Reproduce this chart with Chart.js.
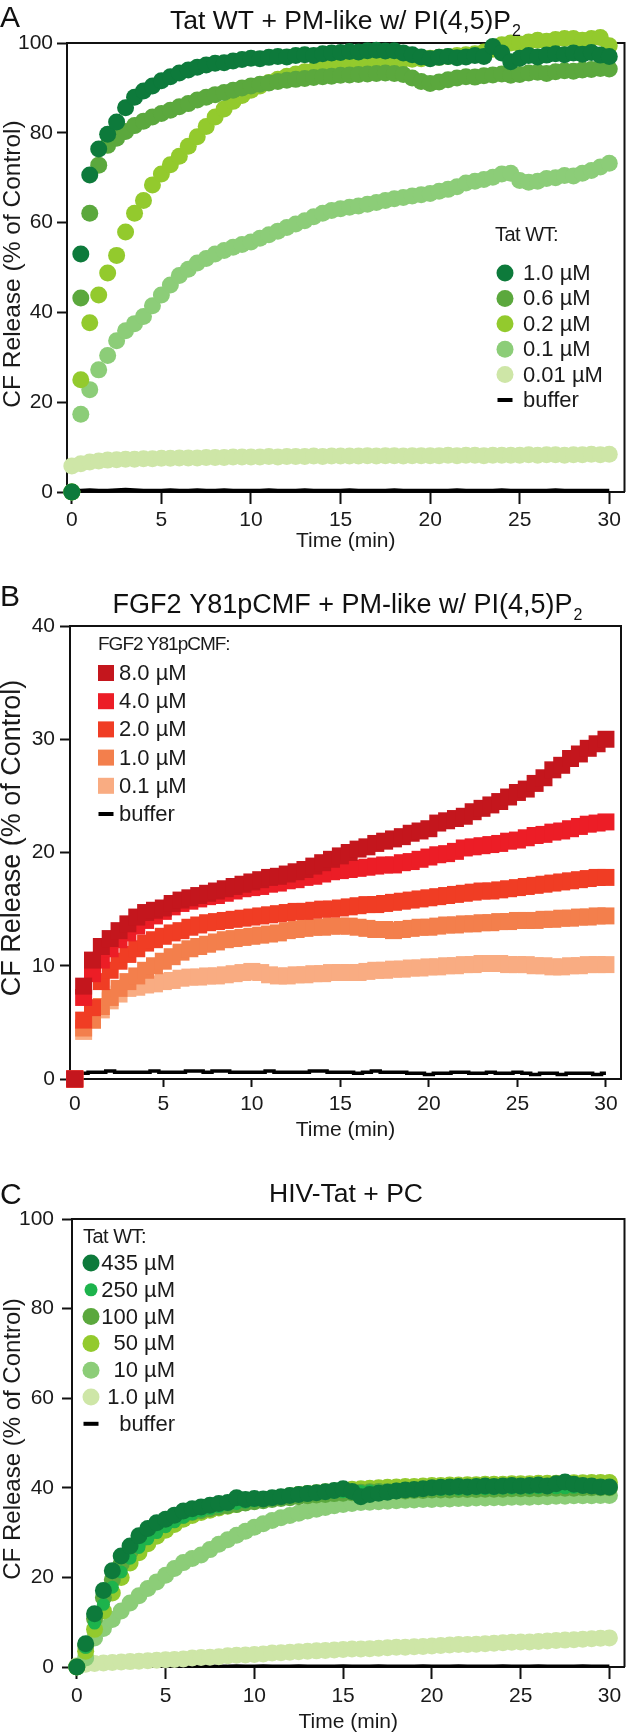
<!DOCTYPE html>
<html>
<head>
<meta charset="utf-8">
<script src="https://cdn.jsdelivr.net/npm/chart.js@4.4.1/dist/chart.umd.min.js"></script>
<style>
  body { margin: 0; background: #fff; }
  canvas { position: absolute; left: 0; }
</style>
</head>
<body>
<canvas id="chartA" style="top:0px" width="633" height="560"></canvas>
<canvas id="chartB" style="top:560px" width="633" height="590"></canvas>
<canvas id="chartC" style="top:1150px" width="633" height="582"></canvas>
<script>
// sampling times (min)
const time = [0,0.5,1,1.5,2,2.5,3,3.5,4,4.5,5,5.5,6,6.5,7,7.5,8,8.5,9,9.5,10,10.5,11,11.5,12,12.5,13,13.5,14,14.5,15,15.5,16,16.5,17,17.5,18,18.5,19,19.5,20,20.5,21,21.5,22,22.5,23,23.5,24,24.5,25,25.5,26,26.5,27,27.5,28,28.5,29,29.5,30];
const xTicks = [0, 5, 10, 15, 20, 25, 30];
const yTicksA = [0, 20, 40, 60, 80, 100];
const yTicksB = [0, 10, 20, 30, 40];
const yTicksC = [0, 20, 40, 60, 80, 100];

// A: Tat WT + PM-like w/ PI(4,5)P2
const labelsA = ['1.0 µM', '0.6 µM', '0.2 µM', '0.1 µM', '0.01 µM', 'buffer'];
const tatA10 = [0, 53.0, 70.6, 76.4, 79.7, 82.4, 85.6, 87.9, 89.3, 90.4,
  91.6, 92.5, 93.3, 94.0, 94.6, 95.1, 95.5, 95.6, 96.0, 96.3,
  96.6, 96.5, 96.8, 97.0, 96.9, 97.2, 97.4, 97.2, 97.6, 97.8,
  97.9, 98.1, 98.0, 98.3, 98.4, 98.2, 98.3, 97.8, 97.4, 96.9,
  96.5, 96.8, 97.0, 96.7, 96.9, 97.2, 97.0, 99.2, 97.8, 95.8,
  96.6, 97.2, 96.9, 97.3, 97.6, 97.4, 97.8, 97.5, 97.9, 97.3,
  97.0];
const tatA06 = [0, 43.2, 62.1, 72.8, 77.2, 78.8, 80.3, 81.6, 82.6, 83.5,
  84.3, 85.0, 85.8, 86.5, 87.3, 87.9, 88.5, 89.0, 89.5, 90.0,
  90.4, 90.8, 91.1, 91.4, 91.7, 91.9, 92.1, 92.3, 92.5, 92.6,
  92.8, 92.9, 93.0, 93.1, 93.2, 93.3, 93.2, 93.0, 92.2, 91.4,
  91.0, 91.3, 91.8, 92.2, 92.5, 92.4, 92.7, 92.9, 93.1, 92.8,
  93.0, 93.3, 93.5, 93.2, 93.6, 93.8, 93.7, 94.0, 94.1, 94.3,
  94.2];
const tatA02 = [0, 25.0, 37.7, 43.9, 48.8, 52.7, 57.9, 62.1, 64.9, 68.4,
  70.8, 72.9, 74.8, 77.0, 79.1, 81.4, 83.5, 85.3, 87.0, 88.3,
  89.5, 90.4, 91.2, 91.9, 92.6, 93.1, 93.6, 93.9, 94.2, 94.6,
  94.9, 95.1, 95.4, 95.6, 95.8, 96.0, 96.2, 96.3, 96.4, 96.5,
  96.6, 96.8, 97.0, 97.2, 97.4, 97.6, 98.0, 98.6, 99.6, 100.0,
  99.8, 100.2, 100.6, 100.4, 100.8, 101.0, 101.0, 100.6, 101.0, 101.2,
  99.4];
const tatA01 = [0, 17.3, 22.8, 27.2, 30.4, 33.7, 35.9, 37.5, 39.1, 41.5,
  43.9, 46.1, 48.2, 49.6, 51.0, 52.0, 53.0, 53.8, 54.5, 55.1,
  55.7, 56.5, 57.3, 58.1, 58.9, 59.7, 60.4, 61.3, 62.1, 62.7,
  63.1, 63.4, 63.7, 64.1, 64.5, 64.9, 65.3, 65.6, 65.9, 66.2,
  66.5, 67.0, 67.4, 68.0, 68.8, 69.2, 69.6, 70.1, 70.8, 71.0,
  69.4, 69.0, 69.2, 69.8, 70.0, 70.5, 70.4, 71.0, 71.6, 72.4,
  73.2];
const tatA001 = [5.8, 6.3, 6.7, 6.9, 7.1, 7.2, 7.3, 7.3, 7.4, 7.4,
  7.5, 7.5, 7.6, 7.6, 7.6, 7.7, 7.7, 7.7, 7.8, 7.8,
  7.8, 7.8, 7.9, 7.8, 7.9, 7.9, 7.9, 8.0, 7.9, 8.0,
  8.0, 8.0, 8.0, 8.1, 8.0, 8.1, 8.1, 8.0, 8.1, 8.1,
  8.1, 8.1, 8.2, 8.1, 8.2, 8.2, 8.1, 8.2, 8.2, 8.2,
  8.2, 8.3, 8.2, 8.3, 8.3, 8.2, 8.3, 8.3, 8.4, 8.3,
  8.4];
const bufferA = [0.3, 0.3, 0.4, 0.3, 0.3, 0.4, 0.5, 0.4, 0.3, 0.3,
  0.3, 0.4, 0.3, 0.3, 0.4, 0.3, 0.3, 0.4, 0.3, 0.3,
  0.3, 0.3, 0.4, 0.3, 0.3, 0.3, 0.4, 0.3, 0.3, 0.3,
  0.3, 0.4, 0.3, 0.3, 0.3, 0.3, 0.4, 0.3, 0.3, 0.3,
  0.3, 0.3, 0.3, 0.4, 0.3, 0.3, 0.3, 0.3, 0.4, 0.3,
  0.3, 0.3, 0.3, 0.3, 0.4, 0.3, 0.3, 0.3, 0.3, 0.3,
  0.3];

// B: FGF2 Y81pCMF + PM-like w/ PI(4,5)P2
const labelsB = ['8.0 µM', '4.0 µM', '2.0 µM', '1.0 µM', '0.1 µM', 'buffer'];
const fgf80 = [0, 8.2, 10.5, 11.7, 12.4, 13.1, 13.7, 14.3, 14.7, 14.9,
  15.1, 15.5, 15.8, 16.0, 16.2, 16.4, 16.6, 16.8, 17.0, 17.2,
  17.4, 17.6, 17.8, 17.9, 18.1, 18.3, 18.5, 18.8, 19.1, 19.4,
  19.7, 20.0, 20.3, 20.5, 20.8, 21.0, 21.2, 21.4, 21.7, 21.9,
  22.1, 22.6, 22.8, 23.0, 23.2, 23.6, 23.9, 24.2, 24.5, 24.9,
  25.3, 25.6, 26.1, 26.6, 27.3, 27.7, 28.3, 28.7, 29.2, 29.6,
  30.0];
const fgf40 = [0, 7.2, 9.3, 10.5, 11.5, 12.3, 12.9, 13.5, 14.0, 14.4,
  14.8, 15.2, 15.5, 15.7, 15.9, 16.1, 16.2, 16.4, 16.6, 16.8,
  16.9, 17.0, 17.2, 17.3, 17.5, 17.6, 17.8, 17.9, 18.1, 18.3,
  18.4, 18.5, 18.6, 18.7, 18.8, 18.9, 18.9, 19.1, 19.2, 19.4,
  19.6, 19.8, 19.9, 20.1, 20.4, 20.5, 20.6, 20.7, 20.8, 21.0,
  21.1, 21.3, 21.5, 21.6, 21.8, 21.9, 22.1, 22.3, 22.5, 22.6,
  22.7];
const fgf20 = [0, 5.2, 6.3, 8.6, 9.6, 10.4, 11.0, 11.5, 12.0, 12.3,
  12.6, 12.9, 13.1, 13.4, 13.6, 13.8, 13.9, 14.0, 14.1, 14.2,
  14.3, 14.4, 14.5, 14.6, 14.7, 14.8, 14.8, 14.9, 15.0, 15.0,
  15.1, 15.2, 15.3, 15.4, 15.4, 15.5, 15.6, 15.7, 15.8, 15.9,
  16.0, 16.1, 16.2, 16.3, 16.4, 16.5, 16.6, 16.6, 16.7, 16.8,
  16.9, 17.0, 17.1, 17.2, 17.3, 17.4, 17.5, 17.6, 17.7, 17.8,
  17.8];
const fgf10 = [0, 4.5, 5.2, 6.4, 7.2, 8.0, 8.6, 9.1, 9.6, 10.0,
  10.4, 10.8, 11.2, 11.5, 11.7, 11.9, 12.1, 12.3, 12.4, 12.5,
  12.6, 12.7, 12.8, 12.9, 13.1, 13.2, 13.3, 13.4, 13.4, 13.5,
  13.5, 13.5, 13.4, 13.3, 13.2, 13.2, 13.1, 13.2, 13.3, 13.4,
  13.4, 13.5, 13.6, 13.6, 13.7, 13.7, 13.8, 13.8, 13.9, 13.9,
  14.0, 14.0, 14.0, 14.1, 14.1, 14.2, 14.2, 14.3, 14.3, 14.4,
  14.4];
const fgf01 = [0, 4.2, 5.2, 6.1, 6.9, 7.5, 8.0, 8.1, 8.3, 8.4,
  8.6, 8.7, 8.9, 9.0, 9.0, 9.1, 9.1, 9.2, 9.3, 9.4,
  9.5, 9.4, 9.2, 9.1, 9.1, 9.2, 9.2, 9.3, 9.3, 9.4,
  9.4, 9.4, 9.4, 9.5, 9.6, 9.6, 9.7, 9.7, 9.8, 9.8,
  9.9, 9.9, 10.0, 10.0, 10.1, 10.1, 10.2, 10.2, 10.2, 10.1,
  10.1, 10.1, 10.0, 10.0, 9.9, 9.9, 10.0, 10.0, 10.1, 10.1,
  10.1];
const bufferB = [0.5, 0.5, 0.6, 0.6, 0.7, 0.6, 0.6, 0.6, 0.6, 0.7,
  0.6, 0.6, 0.6, 0.7, 0.7, 0.6, 0.7, 0.7, 0.6, 0.6,
  0.6, 0.6, 0.7, 0.6, 0.6, 0.6, 0.6, 0.7, 0.7, 0.6,
  0.6, 0.6, 0.5, 0.6, 0.7, 0.6, 0.6, 0.6, 0.5, 0.5,
  0.4, 0.5, 0.5, 0.6, 0.6, 0.5, 0.5, 0.6, 0.5, 0.5,
  0.6, 0.5, 0.4, 0.5, 0.5, 0.4, 0.5, 0.5, 0.5, 0.4,
  0.5];

// C: HIV-Tat + PC
const labelsC = ['435 µM', '250 µM', '100 µM', '50 µM', '10 µM', '1.0 µM', 'buffer'];
const tatC435 = [0, 5.2, 11.9, 17.1, 21.5, 24.8, 27.0, 29.3, 30.9, 32.2,
  33.0, 33.9, 34.8, 35.3, 35.7, 36.1, 36.5, 36.7, 37.8, 37.4,
  37.6, 37.5, 37.8, 38.0, 38.3, 38.5, 38.7, 38.9, 39.1, 39.4,
  39.8, 39.2, 38.0, 38.5, 38.8, 39.0, 39.3, 39.5, 39.6, 39.8,
  40.0, 40.1, 40.2, 40.3, 40.2, 40.3, 40.4, 40.3, 40.4, 40.5,
  40.4, 40.5, 40.6, 40.4, 40.9, 41.3, 40.8, 40.5, 40.4, 40.2,
  40.2];
const tatC250 = [0, 4.4, 9.8, 14.0, 17.8, 21.2, 24.3, 26.7, 28.6, 30.0,
  31.3, 32.4, 33.4, 34.2, 34.8, 35.3, 35.8, 36.2, 36.5, 36.8,
  37.1, 37.3, 37.6, 37.8, 38.0, 38.2, 38.4, 38.6, 38.8, 39.0,
  39.1, 39.2, 39.2, 39.3, 39.3, 39.4, 39.4, 39.5, 39.5, 39.5,
  39.6, 39.6, 39.7, 39.7, 39.7, 39.8, 39.8, 39.8, 39.9, 39.9,
  39.9, 39.9, 40.0, 40.0, 40.0, 40.0, 40.1, 40.1, 40.1, 40.1,
  40.1];
const tatC100 = [0, 4.8, 10.8, 15.5, 19.5, 23.0, 25.8, 28.0, 29.8, 31.2,
  32.2, 33.1, 33.9, 34.5, 34.9, 35.3, 35.7, 36.0, 36.3, 36.6,
  36.9, 37.1, 37.4, 37.6, 37.8, 38.0, 38.2, 38.4, 38.5, 38.7,
  38.8, 38.9, 39.0, 39.1, 39.2, 39.2, 39.3, 39.3, 39.4, 39.4,
  39.5, 39.5, 39.5, 39.6, 39.6, 39.6, 39.7, 39.7, 39.7, 39.8,
  39.8, 39.8, 39.8, 39.9, 39.9, 39.9, 39.9, 40.0, 40.0, 40.0,
  40.0];
const tatC50 = [0, 3.5, 8.4, 12.5, 16.5, 20.0, 23.2, 25.5, 27.5, 29.2,
  30.5, 31.8, 33.0, 33.8, 34.5, 35.0, 35.5, 35.9, 36.3, 36.7,
  37.0, 37.3, 37.6, 37.9, 38.2, 38.5, 38.7, 38.9, 39.1, 39.3,
  39.5, 39.7, 39.8, 39.9, 40.0, 40.1, 40.2, 40.3, 40.3, 40.4,
  40.5, 40.5, 40.6, 40.6, 40.7, 40.7, 40.8, 40.8, 40.8, 40.9,
  40.9, 40.9, 41.0, 41.0, 41.0, 41.1, 41.1, 41.1, 41.2, 41.2,
  41.2];
const tatC10 = [0, 2.0, 6.5, 8.6, 10.6, 12.5, 14.3, 15.9, 17.5, 19.0,
  20.5, 22.0, 23.3, 24.2, 25.0, 26.2, 27.4, 28.4, 29.4, 30.3,
  31.2, 32.0, 32.7, 33.3, 33.8, 34.3, 34.8, 35.2, 35.6, 36.0,
  36.3, 36.5, 36.7, 36.8, 36.9, 37.0, 37.1, 37.2, 37.3, 37.4,
  37.4, 37.5, 37.5, 37.6, 37.6, 37.7, 37.7, 37.8, 37.8, 37.9,
  37.9, 37.9, 38.0, 38.0, 38.1, 38.1, 38.2, 38.2, 38.2, 38.3,
  38.3];
const tatC1 = [0.3, 0.6, 0.8, 0.9, 1.0, 1.1, 1.2, 1.3, 1.4, 1.5,
  1.6, 1.7, 1.8, 2.0, 2.1, 2.2, 2.3, 2.5, 2.6, 2.7,
  2.8, 2.9, 3.1, 3.2, 3.3, 3.4, 3.5, 3.6, 3.7, 3.8,
  3.9, 4.0, 4.0, 4.1, 4.2, 4.3, 4.4, 4.4, 4.5, 4.6,
  4.7, 4.8, 4.9, 5.0, 5.0, 5.1, 5.2, 5.3, 5.4, 5.5,
  5.6, 5.6, 5.7, 5.8, 5.9, 6.0, 6.1, 6.2, 6.3, 6.4,
  6.5];
const bufferC = [0.2, 0.2, 0.3, 0.2, 0.2, 0.3, 0.2, 0.2, 0.2, 0.3,
  0.2, 0.2, 0.2, 0.3, 0.2, 0.2, 0.2, 0.2, 0.3, 0.2,
  0.2, 0.3, 0.2, 0.2, 0.2, 0.3, 0.2, 0.2, 0.2, 0.2,
  0.3, 0.2, 0.2, 0.2, 0.3, 0.2, 0.2, 0.2, 0.2, 0.3,
  0.2, 0.2, 0.2, 0.3, 0.2, 0.2, 0.2, 0.2, 0.3, 0.2,
  0.2, 0.2, 0.3, 0.2, 0.2, 0.2, 0.2, 0.3, 0.2, 0.2,
  0.2];

const colorsA = ['#0d7a3b', '#5ba83d', '#93ca2d', '#8ccd78', '#cee6a7'];
const colorsB = ['#c4161d', '#ec1d26', '#f03d24', '#f37f4c', '#f9ac82'];
const colorsC = ['#0d7a3b', '#1db34c', '#5ba83d', '#93ca2d', '#8ccd78', '#cee6a7'];

const FONT = "'Liberation Sans', Arial, Helvetica, sans-serif";
Chart.defaults.font.family = FONT;
Chart.defaults.color = '#1a1a1a';

function pts(ys) {
  return ys.map((y, i) => ({ x: time[i], y: y }));
}

function markerSet(label, ys, color, style, r) {
  return {
    label: label, data: pts(ys), showLine: false, clip: false,
    pointStyle: style, pointRadius: r, pointBorderWidth: 0,
    pointBackgroundColor: color, backgroundColor: color, borderColor: color
  };
}

function bufferSet(ys, w, stepped) {
  return {
    label: 'buffer', data: pts(ys), showLine: true, clip: false, isBuffer: true,
    borderColor: '#000', backgroundColor: '#000', borderWidth: w,
    pointRadius: 0, stepped: stepped
  };
}

// top + right frame of the plot box
const frame = {
  id: 'frame',
  beforeDatasetsDraw(chart) {
    const { ctx, chartArea: a } = chart;
    ctx.save();
    ctx.strokeStyle = '#111';
    ctx.lineWidth = 2;
    ctx.beginPath();
    ctx.moveTo(a.left, a.top);
    ctx.lineTo(a.right, a.top);
    ctx.lineTo(a.right, a.bottom);
    ctx.stroke();
    ctx.restore();
  }
};

// panel letter, title with subscript, rotated y title
const panelText = {
  id: 'panelText',
  afterDraw(chart, args, o) {
    const ctx = chart.ctx;
    ctx.save();
    ctx.fillStyle = '#111';
    ctx.textBaseline = 'alphabetic';
    ctx.textAlign = 'left';
    ctx.font = '30px ' + FONT;
    ctx.fillText(o.letter, 0, o.letterY);
    ctx.font = o.size + 'px ' + FONT;
    const w1 = ctx.measureText(o.title).width;
    ctx.font = '16px ' + FONT;
    const w2 = o.sub ? ctx.measureText(o.sub).width : 0;
    const x0 = o.titleX - (w1 + w2) / 2;
    ctx.font = o.size + 'px ' + FONT;
    ctx.fillText(o.title, x0, o.titleY);
    if (o.sub) {
      ctx.font = '16px ' + FONT;
      ctx.fillText(o.sub, x0 + w1 + 1, o.titleY + 7);
    }
    // y axis title
    ctx.fillStyle = '#1a1a1a';
    ctx.translate(13, o.yTitleY);
    ctx.rotate(-Math.PI / 2);
    ctx.textAlign = 'center';
    ctx.textBaseline = 'middle';
    ctx.font = o.yTitleSize + 'px ' + FONT;
    ctx.fillText('CF Release (% of Control)', 0, 0);
    ctx.restore();
  }
};

// legend drawn inside the plot box
const boxLegend = {
  id: 'boxLegend',
  afterDatasetsDraw(chart, args, o) {
    const ctx = chart.ctx;
    ctx.save();
    ctx.fillStyle = '#1a1a1a';
    ctx.textBaseline = 'middle';
    ctx.textAlign = 'left';
    ctx.font = o.titleSize + 'px ' + FONT;
    ctx.letterSpacing = o.titleSpacing + 'px';
    ctx.fillText(o.title, o.titleX, o.titleY);
    ctx.letterSpacing = '0px';
    ctx.font = '22px ' + FONT;
    ctx.textAlign = o.align;
    chart.data.datasets.forEach((ds, i) => {
      const y = o.rowY + i * o.rowStep;
      ctx.fillStyle = ds.isBuffer ? '#000' : ds.pointBackgroundColor;
      if (ds.isBuffer) {
        ctx.fillRect(o.markerX - 7.5, y - 2, 15, 4);
      } else if (ds.pointStyle === 'rect') {
        ctx.fillRect(o.markerX - 8, y - 8, 16, 16);
      } else {
        ctx.beginPath();
        ctx.arc(o.markerX, y, ds.pointRadius, 0, Math.PI * 2);
        ctx.fill();
      }
      ctx.fillStyle = '#1a1a1a';
      ctx.fillText(ds.label, o.textX, y + 1);
    });
    ctx.restore();
  }
};

function makeOptions(g) {
  return {
    responsive: false,
    animation: false,
    events: [],
    layout: { padding: { top: g.top, right: g.right, left: 0, bottom: 0 } },
    scales: {
      x: {
        type: 'linear', min: -0.27, max: 30.85,
        afterBuildTicks: s => { s.ticks = xTicks.map(v => ({ value: v })); },
        afterFit: s => { s.height = g.xh; s.paddingLeft = 0; s.paddingRight = 0; },
        grid: { drawOnChartArea: false, tickLength: g.xtl, tickColor: '#111', tickWidth: 2 },
        border: { display: true, color: '#111', width: 2 },
        ticks: { padding: g.xtp, font: { size: 21 }, color: '#1a1a1a', maxRotation: 0, autoSkip: false },
        title: { display: true, text: 'Time (min)', color: '#1a1a1a', font: { size: 21, lineHeight: 1 },
                 padding: { top: 0, bottom: g.xtitle } }
      },
      y: {
        type: 'linear', min: 0, max: g.ymax,
        afterBuildTicks: s => { s.ticks = g.yticks.map(v => ({ value: v })); },
        afterFit: s => { s.width = g.yw; },
        grid: { drawOnChartArea: false, tickLength: 10, tickColor: '#111', tickWidth: 2 },
        border: { display: true, color: '#111', width: 2 },
        ticks: { padding: g.ytp, font: { size: 21 }, color: '#1a1a1a' },
        title: { display: false }
      }
    },
    plugins: {
      legend: { display: false },
      tooltip: { enabled: false },
      panelText: g.text,
      boxLegend: g.legend
    }
  };
}

new Chart(document.getElementById('chartA'), {
  type: 'scatter',
  data: {
    datasets: [
      markerSet(labelsA[0], tatA10, colorsA[0], 'circle', 8.5),
      markerSet(labelsA[1], tatA06, colorsA[1], 'circle', 8.5),
      markerSet(labelsA[2], tatA02, colorsA[2], 'circle', 8.5),
      markerSet(labelsA[3], tatA01, colorsA[3], 'circle', 8.5),
      markerSet(labelsA[4], tatA001, colorsA[4], 'circle', 8.5),
      bufferSet(bufferA, 4, false)
    ]
  },
  options: makeOptions({
    top: 43, right: 6, xh: 68, yw: 67, ymax: 100, yticks: yTicksA,
    xtl: 12, xtp: 4, xtitle: 8, ytp: 4,
    text: { letter: 'A', letterY: 27, title: 'Tat WT + PM-like w/ PI(4,5)P', sub: '2', size: 26.5, titleX: 345, titleY: 29,
            yTitleY: 264, yTitleSize: 24.5 },
    legend: { title: 'Tat WT:', titleSize: 20, titleSpacing: -0.5, titleX: 495, titleY: 235,
              markerX: 505, textX: 523, align: 'left', rowY: 273, rowStep: 25.4 }
  }),
  plugins: [frame, panelText, boxLegend]
});

new Chart(document.getElementById('chartB'), {
  type: 'scatter',
  data: {
    datasets: [
      markerSet(labelsB[0], fgf80, colorsB[0], 'rect', 12),
      markerSet(labelsB[1], fgf40, colorsB[1], 'rect', 12),
      markerSet(labelsB[2], fgf20, colorsB[2], 'rect', 12),
      markerSet(labelsB[3], fgf10, colorsB[3], 'rect', 12),
      markerSet(labelsB[4], fgf01, colorsB[4], 'rect', 12),
      bufferSet(bufferB, 3.5, 'middle')
    ]
  },
  options: makeOptions({
    top: 66, right: 3, xh: 71, yw: 70, ymax: 40, yticks: yTicksB,
    xtl: 8, xtp: 5, xtitle: 9, ytp: 5,
    text: { letter: 'B', letterY: 46, title: 'FGF2 Y81pCMF + PM-like w/ PI(4,5)P', sub: '2', size: 27, titleX: 347, titleY: 53,
            yTitleY: 278, yTitleSize: 27 },
    legend: { title: 'FGF2 Y81pCMF:', titleSize: 19, titleSpacing: -1, titleX: 98, titleY: 85,
              markerX: 106, textX: 119, align: 'left', rowY: 113, rowStep: 28.2 }
  }),
  plugins: [frame, panelText, boxLegend]
});

new Chart(document.getElementById('chartC'), {
  type: 'scatter',
  data: {
    datasets: [
      markerSet(labelsC[0], tatC435, colorsC[0], 'circle', 8.5),
      markerSet(labelsC[1], tatC250, colorsC[1], 'circle', 6.5),
      markerSet(labelsC[2], tatC100, colorsC[2], 'circle', 8.5),
      markerSet(labelsC[3], tatC50, colorsC[3], 'circle', 8.5),
      markerSet(labelsC[4], tatC10, colorsC[4], 'circle', 8.5),
      markerSet(labelsC[5], tatC1, colorsC[5], 'circle', 8.5),
      bufferSet(bufferC, 3, false)
    ]
  },
  options: makeOptions({
    top: 69, right: 3, xh: 65, yw: 72, ymax: 100, yticks: yTicksC,
    xtl: 12, xtp: 5, xtitle: -1, ytp: 8,
    text: { letter: 'C', letterY: 54, title: 'HIV-Tat + PC', sub: '', size: 26.5, titleX: 346, titleY: 52,
            yTitleY: 289, yTitleSize: 24 },
    legend: { title: 'Tat WT:', titleSize: 20, titleSpacing: -0.5, titleX: 83, titleY: 87,
              markerX: 91, textX: 175, align: 'right', rowY: 113, rowStep: 26.8 }
  }),
  plugins: [frame, panelText, boxLegend]
});
</script>
</body>
</html>
